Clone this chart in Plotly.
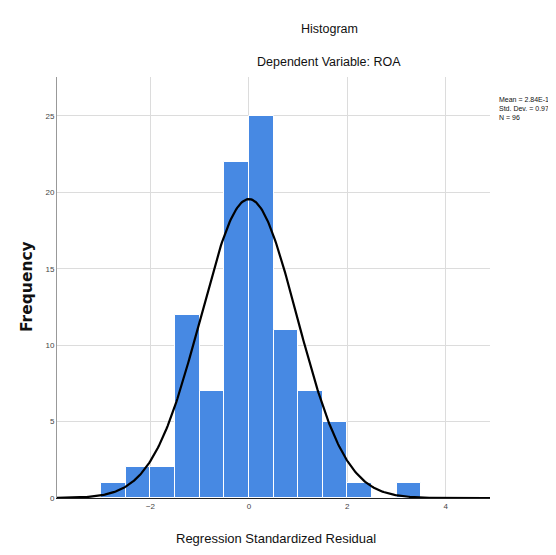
import numpy as np
import plotly.graph_objects as go

# Histogram data
bin_left = [-3.0, -2.5, -2.0, -1.5, -1.0, -0.5, 0.0, 0.5, 1.0, 1.5, 2.0, 2.5, 3.0]
counts = [1, 2, 2, 12, 7, 22, 25, 11, 7, 5, 1, 0, 1]
bin_width = 0.5

# Summary statistics from the legend
mean_val = 2.84e-16
std_val = 0.979
n_val = 96
stat_lines = ["Mean = 2.84E-16", "Std. Dev. = 0.979", "N = 96"]

x_ticks = [-2, 0, 2, 4]
y_ticks = [0, 5, 10, 15, 20, 25]

centers = [b + bin_width / 2 for b in bin_left]

# Fitted normal curve defined by the legend's mean / sd / N
xs = np.linspace(-3.9, 4.9, 400)
ys = n_val * bin_width * np.exp(-0.5 * ((xs - mean_val) / std_val) ** 2) / (std_val * np.sqrt(2 * np.pi))

fig = go.Figure()
fig.add_trace(go.Bar(
    x=centers, y=counts, width=bin_width,
    marker=dict(color="#4789e3", line=dict(color="white", width=1)),
    showlegend=False,
))
fig.add_trace(go.Scatter(
    x=xs, y=ys, mode="lines",
    line=dict(color="black", width=2.2),
    showlegend=False,
))

font_fam = "Liberation Sans Narrow, Liberation Sans, Arial, sans-serif"

# page has an 8px body margin, so the figure is laid out 8px smaller
OFF = 8
W, H = 556 - OFF, 555 - OFF
ML, MR, MT, MB = 57 - OFF, 66, 77 - OFF, 57
pw = W - ML - MR
ph = H - MT - MB


def px(x, y):
    """screen pixel (from top-left of window) -> paper coords"""
    return (x - OFF - ML) / pw, (H - (y - OFF) - MB) / ph


def ann(text, x, y, size, **kw):
    ax, ay = px(x, y)
    d = dict(text=text, x=ax, y=ay, xref="paper", yref="paper", showarrow=False,
             xanchor="center", yanchor="middle",
             font=dict(size=size, color="#111", family=kw.pop("family", font_fam)))
    d.update(kw)
    return d


fig.update_layout(
    width=W, height=H,
    margin=dict(l=ML, r=MR, t=MT, b=MB),
    paper_bgcolor="white", plot_bgcolor="white",
    bargap=0,
    font=dict(family=font_fam, color="#333"),
    xaxis=dict(
        range=[-3.9, 4.9], tickvals=x_ticks,
        showgrid=True, gridcolor="#dcdcdc", gridwidth=1,
        zeroline=False, showline=True, linecolor="#222", linewidth=1,
        ticks="", tickfont=dict(size=8, color="#444"),
    ),
    yaxis=dict(
        range=[0, 27.55], tickvals=y_ticks,
        showgrid=True, gridcolor="#dcdcdc", gridwidth=1,
        zeroline=False, showline=True, linecolor="#999", linewidth=1,
        ticks="", tickfont=dict(size=8, color="#444"),
    ),
    annotations=[
        ann("Histogram", 329, 29, 12.5),
        ann("Dependent Variable: ROA", 329, 62, 12.5),
        ann("Regression Standardized Residual", 276, 538, 13),
        ann("<b>Frequency</b>", 27, 287, 15.5, textangle=-90,
            family="DejaVu Sans, Liberation Sans, sans-serif"),
        ann("<br>".join(stat_lines), 497, 94, 7, xanchor="left", yanchor="top", align="left"),
    ],
)

fig.write_html("out.html")
